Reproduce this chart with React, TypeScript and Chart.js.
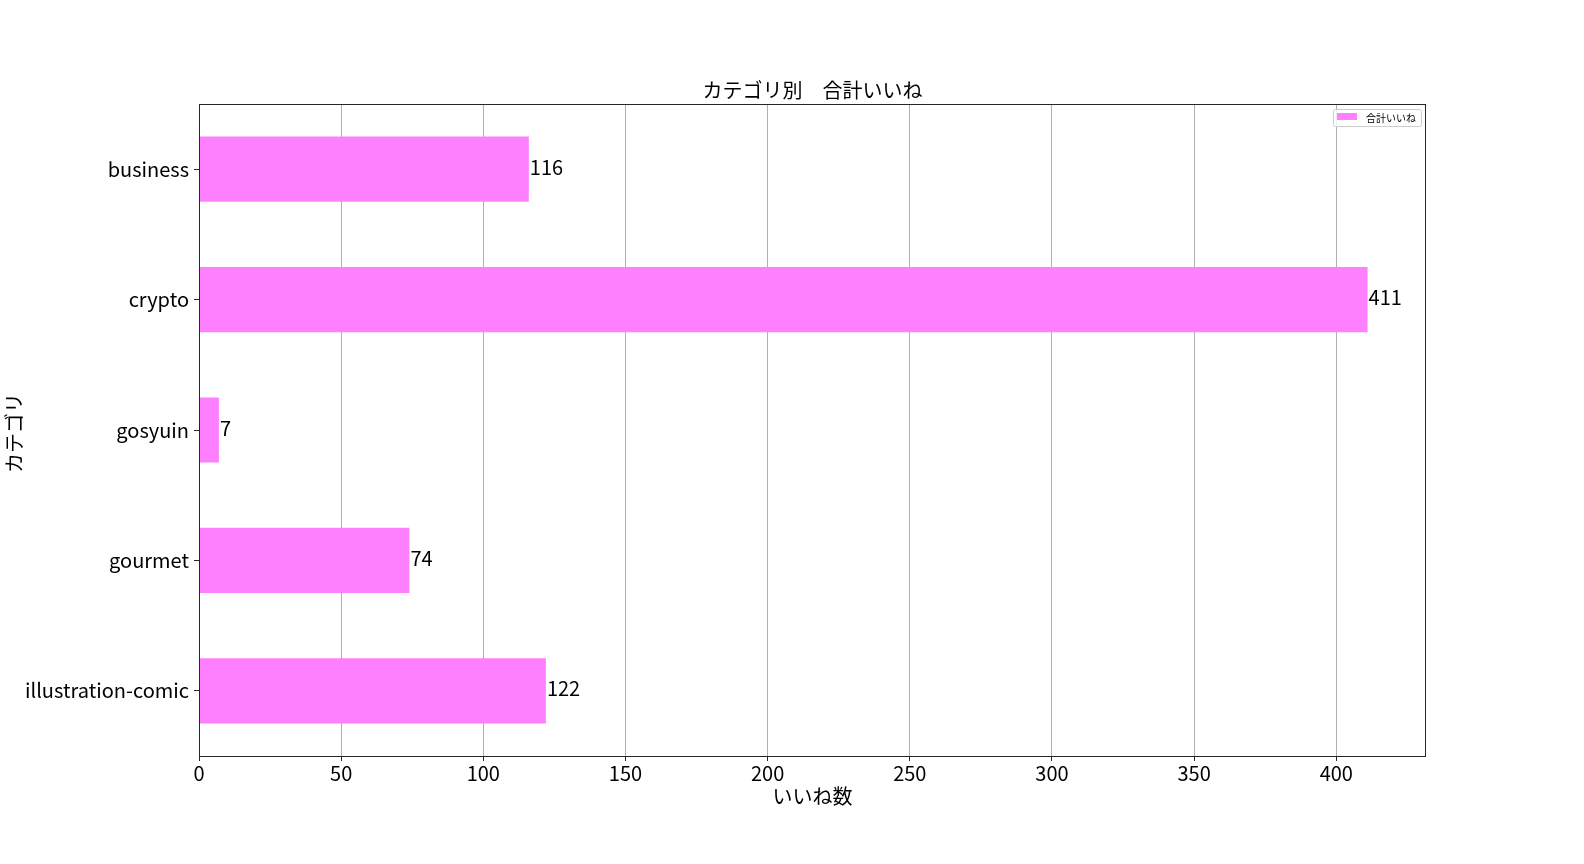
import React, { useEffect, useRef } from "react";
import { Chart, registerables } from "chart.js";

Chart.register(...registerables);

const categories: string[] = ["business", "crypto", "gosyuin", "gourmet", "illustration-comic"];
const likeTotals: number[] = [116, 411, 7, 74, 122];
const xTickValues: number[] = [0, 50, 100, 150, 200, 250, 300, 350, 400];
const xMax = 431.55;

const seriesLabel = "合計いいね";
const titleText = "カテゴリ別　合計いいね";
const xAxisLabel = "いいね数";
const yAxisLabel = "カテゴリ";

const FONT = "'Noto Sans CJK JP', 'Noto Sans', sans-serif";
const BAR_COLOR = "#ff80ff";
const SPINE = "#262626";

const decorPlugin = {
  id: "decor",
  afterDatasetsDraw(chart: any) {
    const ctx = chart.ctx;
    const meta = chart.getDatasetMeta(0);
    ctx.save();
    ctx.fillStyle = "#000";
    ctx.font = `20px ${FONT}`;
    ctx.textBaseline = "middle";
    ctx.textAlign = "left";
    meta.data.forEach((el: any, i: number) => {
      ctx.fillText(String(likeTotals[i]), el.x + 1, el.y - 2);
    });
    ctx.restore();
  },
  afterDraw(chart: any) {
    const ctx = chart.ctx;
    const a = chart.chartArea;
    ctx.save();
    // spines
    ctx.strokeStyle = SPINE;
    ctx.lineWidth = 1;
    ctx.strokeRect(Math.round(a.left) + 0.5, Math.round(a.top) + 0.5, Math.round(a.right - a.left) - 1, Math.round(a.bottom - a.top));
    // title
    ctx.fillStyle = "#000";
    ctx.textAlign = "center";
    ctx.textBaseline = "middle";
    ctx.font = `20px ${FONT}`;
    const cx = (a.left + a.right) / 2;
    ctx.fillText(titleText, cx, a.top - 14);
    // x label
    ctx.fillText(xAxisLabel, cx, a.bottom + 40);
    // y label
    ctx.save();
    ctx.translate(14, (a.top + a.bottom) / 2 + 3);
    ctx.rotate(-Math.PI / 2);
    ctx.fillText(yAxisLabel, 0, 0);
    ctx.restore();
    // legend
    ctx.font = `10px ${FONT}`;
    const textW = ctx.measureText(seriesLabel).width;
    const boxW = 4 + 20 + 9 + textW + 5;
    const boxH = 17;
    const bx = Math.round(a.right - 5 - boxW) + 0.5;
    const by = Math.round(a.top + 5) + 0.5;
    ctx.beginPath();
    const r = 2;
    ctx.moveTo(bx + r, by);
    ctx.lineTo(bx + boxW - r, by);
    ctx.quadraticCurveTo(bx + boxW, by, bx + boxW, by + r);
    ctx.lineTo(bx + boxW, by + boxH - r);
    ctx.quadraticCurveTo(bx + boxW, by + boxH, bx + boxW - r, by + boxH);
    ctx.lineTo(bx + r, by + boxH);
    ctx.quadraticCurveTo(bx, by + boxH, bx, by + boxH - r);
    ctx.lineTo(bx, by + r);
    ctx.quadraticCurveTo(bx, by, bx + r, by);
    ctx.closePath();
    ctx.fillStyle = "rgba(255,255,255,0.8)";
    ctx.fill();
    ctx.strokeStyle = "#cccccc";
    ctx.stroke();
    ctx.fillStyle = BAR_COLOR;
    ctx.fillRect(bx + 3.5, by + 3.5, 20, 7);
    ctx.fillStyle = "#000";
    ctx.textAlign = "left";
    ctx.textBaseline = "middle";
    ctx.fillText(seriesLabel, bx + 3.5 + 20 + 9, by + boxH / 2);
    ctx.restore();
  },
};

export default function App() {
  const ref = useRef<HTMLCanvasElement | null>(null);

  useEffect(() => {
    document.body.style.margin = "0";
    const canvas = ref.current;
    if (!canvas) return;
    const chart = new Chart(canvas, {
      type: "bar",
      data: {
        labels: categories,
        datasets: [
          {
            label: seriesLabel,
            data: likeTotals,
            backgroundColor: BAR_COLOR,
            borderWidth: 0,
            categoryPercentage: 1,
            barPercentage: 0.5,
          },
        ],
      },
      options: {
        indexAxis: "y",
        responsive: false,
        animation: false,
        devicePixelRatio: 1,
        layout: { padding: { left: 0, top: 104, right: 158, bottom: 68 } },
        plugins: {
          legend: { display: false },
          title: { display: false },
          tooltip: { enabled: false },
        },
        scales: {
          x: {
            type: "linear",
            min: 0,
            max: xMax,
            afterBuildTicks: (scale: any) => {
              scale.ticks = xTickValues.map((v) => ({ value: v }));
            },
            afterFit: (scale: any) => {
              scale.height = 40;
            },
            border: { display: false },
            grid: {
              color: "#b0b0b0",
              lineWidth: 1,
              drawTicks: true,
              tickLength: 5,
              tickColor: SPINE,
            },
            ticks: {
              color: "#000",
              font: { size: 20, family: FONT },
              padding: 0,
              maxRotation: 0,
              autoSkip: false,
            },
          },
          y: {
            type: "category",
            offset: true,
            afterFit: (scale: any) => {
              scale.width = 199;
            },
            border: { display: false },
            grid: {
              drawOnChartArea: false,
              offset: false,
              drawTicks: true,
              tickLength: 5,
              tickColor: SPINE,
            },
            ticks: {
              color: "#000",
              font: { size: 20, family: FONT },
              padding: 5,
              autoSkip: false,
            },
          },
        },
      },
      plugins: [decorPlugin],
    });
    return () => chart.destroy();
  }, []);

  return (
    <div style={{ width: 1584, height: 864, background: "#fff" }}>
      <canvas ref={ref} width={1584} height={864} style={{ display: "block" }} />
    </div>
  );
}
